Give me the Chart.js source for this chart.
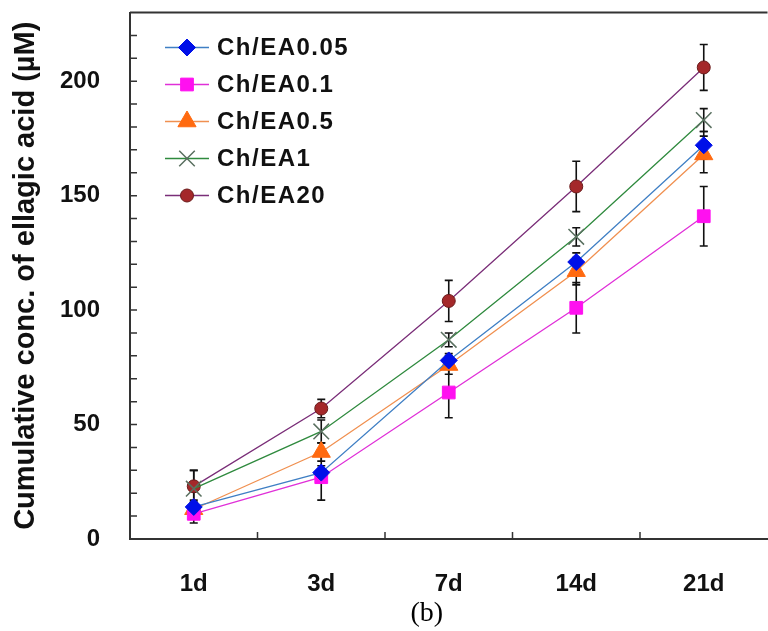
<!DOCTYPE html>
<html>
<head>
<meta charset="utf-8">
<script src="https://cdn.jsdelivr.net/npm/chart.js@4.4.0/dist/chart.umd.min.js"></script>
<style>
  html, body { margin: 0; padding: 0; background: #fff; overflow: hidden; }
  canvas { display: block; }
</style>
</head>
<body>
<canvas id="grafico" width="780" height="631"></canvas>
<script>
const dias = ['1d', '3d', '7d', '14d', '21d'];
const nombres = ['Ch/EA0.05', 'Ch/EA0.1', 'Ch/EA0.5', 'Ch/EA1', 'Ch/EA20'];

const ea005 = [14, 29, 78, 121, 172];
const ea01 = [11, 27, 64, 101, 141];
const ea05 = [13, 38, 76, 117, 168];
const ea1 = [22, 47, 87, 132, 183];
const ea20 = [23, 57, 104, 154, 206];

const err005 = [3, 3, 3, 4, 6];
const err01 = [4, 10, 11, 11, 13];
const err05 = [3, 4, 4, 6, 8];
const err1 = [8, 5, 3, 4, 5];
const err20 = [7, 4, 9, 11, 10];

const valoresY = [0, 50, 100, 150, 200];

const series = [
  { label: nombres[0], data: ea005, err: err005, linea: '#3f7fc4', punto: '#0010e8', estilo: 'rectRot', r: 8.5 },
  { label: nombres[1], data: ea01, err: err01, linea: '#e030d8', punto: '#ff10f0', estilo: 'rect', r: 9 },
  { label: nombres[2], data: ea05, err: err05, linea: '#f09050', punto: '#ff6a10', estilo: 'triangle', r: 10.5 },
  { label: nombres[3], data: ea1, err: err1, linea: '#2f8a3e', punto: '#5a7060', estilo: 'crossRot', r: 11 },
  { label: nombres[4], data: ea20, err: err20, linea: '#7a2e78', punto: '#a4282a', estilo: 'circle', r: 6.5 }
];

const fuente = "'Liberation Sans', Arial, sans-serif";

// error bars behind the lines
const barras = {
  id: 'barras',
  beforeDatasetsDraw(chart) {
    const ctx = chart.ctx;
    const y = chart.scales.y;
    ctx.save();
    ctx.strokeStyle = '#111';
    ctx.lineWidth = 1.6;
    chart.data.datasets.forEach((ds, i) => {
      const meta = chart.getDatasetMeta(i);
      meta.data.forEach((p, j) => {
        const v = ds.data[j], e = ds.err[j];
        const y1 = y.getPixelForValue(v + e), y2 = y.getPixelForValue(v - e);
        ctx.beginPath();
        ctx.moveTo(p.x, y1); ctx.lineTo(p.x, y2);
        ctx.moveTo(p.x - 4, y1); ctx.lineTo(p.x + 4, y1);
        ctx.moveTo(p.x - 4, y2); ctx.lineTo(p.x + 4, y2);
        ctx.stroke();
      });
    });
    ctx.restore();
  }
};

// inward ticks, top frame line, legend and (b)
const extras = {
  id: 'extras',
  afterDraw(chart) {
    const ctx = chart.ctx;
    const y = chart.scales.y;
    const x = chart.scales.x;
    const a = chart.chartArea;

    ctx.save();
    ctx.strokeStyle = '#333';
    ctx.lineWidth = 1.5;
    ctx.beginPath();
    for (let v = 10; v <= 220; v += 10) {
      const py = y.getPixelForValue(v);
      ctx.moveTo(a.left, py); ctx.lineTo(a.left + 7, py);
    }
    for (let j = 0; j < dias.length - 1; j++) {
      const px = (x.getPixelForValue(j) + x.getPixelForValue(j + 1)) / 2;
      ctx.moveTo(px, a.bottom); ctx.lineTo(px, a.bottom - 7);
    }
    ctx.stroke();
    ctx.lineWidth = 2;
    ctx.beginPath();
    ctx.moveTo(a.left, a.top); ctx.lineTo(a.right, a.top);
    ctx.stroke();
    ctx.restore();

    ctx.save();
    chart.data.datasets.forEach((ds, i) => {
      const fy = a.top + 35 + i * 37;
      ctx.strokeStyle = ds.borderColor;
      ctx.lineWidth = 1.5;
      ctx.beginPath();
      ctx.moveTo(a.left + 35, fy); ctx.lineTo(a.left + 79, fy);
      ctx.stroke();
      ctx.fillStyle = ds.pointBackgroundColor;
      ctx.strokeStyle = ds.pointBorderColor;
      ctx.lineWidth = ds.pointBorderWidth;
      Chart.helpers.drawPoint(ctx, {
        pointStyle: ds.pointStyle, radius: ds.pointRadius, rotation: 0, borderWidth: ds.pointBorderWidth
      }, a.left + 57, fy);
      ctx.fillStyle = '#111';
      ctx.font = 'bold 24px ' + fuente;
      ctx.letterSpacing = '1.5px';
      ctx.textBaseline = 'middle';
      ctx.textAlign = 'left';
      ctx.fillText(ds.label, a.left + 87, fy + 1);
    });
    ctx.restore();

    ctx.save();
    ctx.fillStyle = '#000';
    ctx.font = "28px 'Liberation Serif', 'Times New Roman', serif";
    ctx.textAlign = 'center';
    ctx.textBaseline = 'middle';
    ctx.fillText('(b)', x.getPixelForValue(2) - 22, 614);
    ctx.restore();
  }
};

const ctx = document.getElementById('grafico').getContext('2d');

new Chart(ctx, {
  type: 'line',
  data: {
    labels: dias,
    datasets: series.map(s => ({
      label: s.label,
      data: s.data,
      err: s.err,
      borderColor: s.linea,
      borderWidth: 1.3,
      pointStyle: s.estilo,
      pointRadius: s.r,
      pointHoverRadius: s.r,
      pointBackgroundColor: s.punto,
      pointBorderColor: s.estilo === 'circle' ? '#6a1a1a' : s.punto,
      pointBorderWidth: s.estilo === 'crossRot' ? 1.5 : 1,
      tension: 0,
      fill: false
    }))
  },
  options: {
    responsive: false,
    animation: false,
    layout: { padding: { top: 11, right: 3, left: 0, bottom: 0 } },
    plugins: {
      legend: { display: false },
      tooltip: { enabled: false }
    },
    scales: {
      x: {
        offset: true,
        grid: { display: true, drawOnChartArea: false, drawTicks: false },
        border: { display: true, color: '#333', width: 2 },
        ticks: {
          color: '#111',
          padding: 31,
          font: { family: fuente, size: 24, weight: 'bold' }
        },
        afterFit: s => { s.height = 92; }
      },
      y: {
        min: 0,
        max: 230,
        grid: { display: true, drawOnChartArea: false, drawTicks: false },
        border: { display: true, color: '#333', width: 2 },
        ticks: {
          stepSize: 10,
          autoSkip: false,
          padding: 30,
          color: '#111',
          font: { family: fuente, size: 24, weight: 'bold' },
          callback: v => valoresY.includes(v) ? v : ''
        },
        title: {
          display: true,
          text: 'Cumulative conc. of ellagic acid (µM)',
          color: '#111',
          padding: { top: 9, bottom: 0 },
          font: { family: fuente, size: 29, weight: 'bold' }
        },
        afterFit: s => { s.width = 130; s.paddingTop = 0; s.paddingBottom = 0; }
      }
    }
  },
  plugins: [barras, extras]
});
</script>
</body>
</html>
